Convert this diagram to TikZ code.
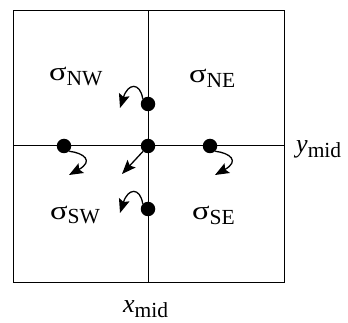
\documentclass[tikz,border=0pt]{standalone}
\usepackage{fontspec}
\setmainfont{Liberation Serif}
\usetikzlibrary{arrows.meta}
\newcommand\sgm{\scalebox{1.25}[1]{σ}}
\newcommand\lblsub[2]{#1\raisebox{-5pt}{\fontsize{21.5}{22}\selectfont #2}}
\tikzset{
  frame/.style={line width=1pt},
  dotnode/.style={circle,fill=black,inner sep=0pt,minimum size=14.5pt},
  flow/.style={line width=1.3pt,-{Stealth[length=14pt,width=11pt,inset=2.5pt]}},
  lbl/.style={inner sep=0pt,font=\fontsize{26}{30}\selectfont}
}
\begin{document}
\begin{tikzpicture}[x=1pt,y=-1pt]
\useasboundingbox (0,0) rectangle (348,323);
% frame and midlines
\coordinate (tl) at (13,11);
\coordinate (br) at (284,282);
\coordinate (mt) at (148,11);
\coordinate (mb) at (148,282);
\coordinate (ml) at (13,146);
\coordinate (mr) at (284,146);
\draw[frame] (tl) rectangle (br);
\draw[frame] (mt) -- (mb);
\draw[frame] (ml) -- (mr);
% dots
\node[dotnode] (c) at (148,146) {};
\node[dotnode] (n) at (148,104) {};
\node[dotnode] (s) at (148,209) {};
\node[dotnode] (w) at (64,146) {};
\node[dotnode] (e) at (210,146) {};
% arrow ends
\coordinate (nt) at (120,108);
\coordinate (st) at (120,213);
\coordinate (ct) at (122,174);
\coordinate (wt) at (69,175);
\coordinate (et) at (215,175);
% arrows
\draw[flow] (n.north west) .. controls (140,82) and (128,83) .. (nt);
\draw[flow] (s.north west) .. controls (140,187) and (128,188) .. (st);
\draw[flow] (c) -- (ct);
\draw[flow] (w.south east) .. controls (84,153) and (94,161) .. (wt);
\draw[flow] (e.south east) .. controls (230,153) and (240,161) .. (et);
% labels
\node[lbl,anchor=base west] (lnw) at (49,81) {\lblsub{\sgm}{NW}};
\node[lbl,anchor=base west] (lne) at (189,83) {\lblsub{\sgm}{NE}};
\node[lbl,anchor=base west] (lsw) at (50,219) {\lblsub{\sgm}{SW}};
\node[lbl,anchor=base west] (lse) at (192,220) {\lblsub{\sgm}{SE}};
\node[lbl,anchor=base west] (ly) at (296,153) {\lblsub{\textit{y}}{mid}};
\node[lbl,anchor=base west] (lx) at (123,312) {\lblsub{\textit{x}}{mid}};
\end{tikzpicture}
\end{document}
